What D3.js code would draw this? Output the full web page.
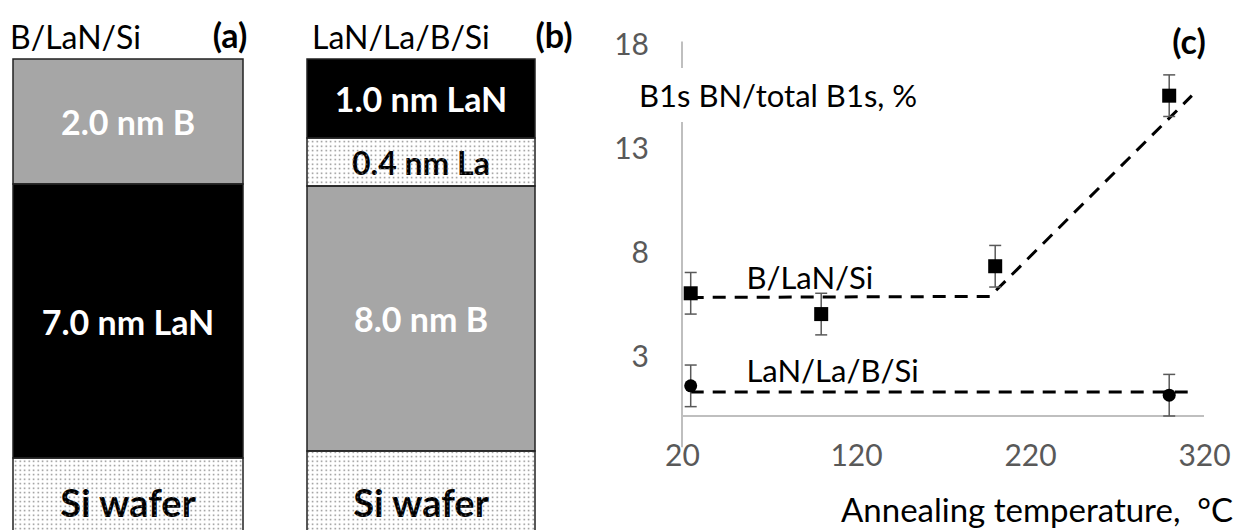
<!DOCTYPE html>
<html>
<title>Layers and BN fraction</title>
<meta charset="UTF-8">
<script type="text/javascript" src="https://d3js.org/d3.v7.min.js"></script>
<style type="text/css">
	body {
		margin: 0;
		background: white;
	}
	text {
		font-family: Lato, "Open Sans", sans-serif;
	}
	.tick text {
		fill: #595959;
	}
</style>
<body>
	<svg id="viz"></svg>
</body>
<script type="text/javascript">

	// layer stacks (a) and (b)
	var stackTitles = ["B/LaN/Si", "LaN/La/B/Si"];
	var panelTags = ["(a)", "(b)", "(c)"];
	var layersA = ["2.0 nm B", "7.0 nm LaN", "Si wafer"];
	var materialsA = ["B", "LaN", "Si"];
	var layersB = ["1.0 nm LaN", "0.4 nm La", "8.0 nm B", "Si wafer"];
	var materialsB = ["LaN", "La", "B", "Si"];

	// chart (c)
	var tempsBLaN = [25, 100, 200, 300];
	var bnBLaN = [5.9, 4.9, 7.2, 15.4];
	var errBLaN = [1, 1, 1, 1];
	var tempsLaNLa = [25, 300];
	var bnLaNLa = [1.45, 1.0];
	var errLaNLa = [1, 1];
	var trendBLaNX = [25, 197, 313];
	var trendBLaNY = [5.7, 5.75, 15.4];
	var trendLaNLaX = [25, 313];
	var trendLaNLaY = [1.15, 1.15];
	var xTicks = [20, 120, 220, 320];
	var yTicks = [3, 8, 13, 18];
	var yTitle = "B1s BN/total B1s, %";
	var xTitle = "Annealing temperature,  °C";

	var W = 1240, H = 530;

	var svg = d3.select("#viz")
		.attr("width", W)
		.attr("height", H);

	// dotted fill, drawn over the text as in the original drawing
	var defs = svg.append("defs");
	var dots = defs.append("pattern")
		.attr("id", "dots")
		.attr("patternUnits", "userSpaceOnUse")
		.attr("width", 4.5)
		.attr("height", 4.5);
	dots.append("rect").attr("x", 1.5).attr("y", 1.5).attr("width", 1.4).attr("height", 1.4).attr("fill", "#777");

	var fillOf = d3.scaleOrdinal()
		.domain(["B", "LaN", "La", "Si"])
		.range(["#a6a6a6", "#000000", "white", "white"]);
	var textOf = d3.scaleOrdinal()
		.domain(["B", "LaN", "La", "Si"])
		.range(["white", "white", "black", "black"]);

	// pixel edges of each layer (drawing is schematic, not to scale)
	var stacks = [
		{labels: layersA, mats: materialsA, x0: 13, x1: 243, edges: [59, 184, 458, 536], sizes: [34, 34, 38]},
		{labels: layersB, mats: materialsB, x0: 307, x1: 535, edges: [59, 138, 186, 451, 536], sizes: [34, 32, 34, 38]}
	];

	stacks.forEach(function(s, k){
		var g = svg.append("g");
		var rows = s.labels.map(function(l, i){
			return {label: l, mat: s.mats[i], y0: s.edges[i], y1: s.edges[i + 1], size: s.sizes[i]};
		});
		g.selectAll("rect.layer")
			.data(rows)
			.enter().append("rect")
			.attr("class", "layer")
			.attr("x", s.x0)
			.attr("y", function(d){ return d.y0; })
			.attr("width", s.x1 - s.x0)
			.attr("height", function(d){ return d.y1 - d.y0; })
			.attr("fill", function(d){ return fillOf(d.mat); });
		g.selectAll("text.layer")
			.data(rows)
			.enter().append("text")
			.attr("class", "layer")
			.attr("x", (s.x0 + s.x1) / 2)
			.attr("y", function(d){ return d.mat == "Si" ? 502 : (d.y0 + d.y1) / 2; })
			.attr("text-anchor", "middle")
			.attr("dominant-baseline", "central")
			.attr("font-weight", "bold")
			.attr("font-size", function(d){ return d.size + "px"; })
			.attr("fill", function(d){ return textOf(d.mat); })
			.text(function(d){ return d.label; });
		g.selectAll("rect.edge")
			.data(rows)
			.enter().append("rect")
			.attr("class", "edge")
			.attr("x", s.x0)
			.attr("y", function(d){ return d.y0; })
			.attr("width", s.x1 - s.x0)
			.attr("height", function(d){ return d.y1 - d.y0; })
			.attr("fill", function(d){ return (d.mat == "La" || d.mat == "Si") ? "url(#dots)" : "none"; })
			.attr("stroke", "#222")
			.attr("stroke-width", 1.5);
		g.append("text")
			.attr("x", k == 0 ? 10 : 312)
			.attr("y", 36)
			.attr("dominant-baseline", "central")
			.attr("font-size", "32px")
			.text(stackTitles[k]);
		g.append("text")
			.attr("x", k == 0 ? 230 : 554)
			.attr("y", 34)
			.attr("text-anchor", "middle")
			.attr("dominant-baseline", "central")
			.attr("font-size", "34px")
			.attr("font-weight", "bold")
			.text(panelTags[k]);
	});

	// chart (c)
	var xScale = d3.scaleLinear()
		.domain([20, 320])
		.range([682, 1204]);
	var yScale = d3.scaleLinear()
		.domain([0, 18])
		.range([416, 41.6]);

	var chart = svg.append("g");

	// y axis title; the axis line is broken around it
	var yt = chart.append("text")
		.attr("x", 639)
		.attr("y", 95)
		.attr("dominant-baseline", "central")
		.attr("font-size", "31px")
		.text(yTitle);
	var bb = yt.node().getBBox();

	var axisColor = "#bfbfbf";
	chart.append("line")
		.attr("x1", xScale(20)).attr("x2", xScale(20))
		.attr("y1", yScale(18)).attr("y2", bb.y - 8)
		.attr("stroke", axisColor).attr("stroke-width", 2);
	chart.append("line")
		.attr("x1", xScale(20)).attr("x2", xScale(20))
		.attr("y1", bb.y + bb.height + 8).attr("y2", yScale(-1.5))
		.attr("stroke", axisColor).attr("stroke-width", 2);
	chart.append("line")
		.attr("x1", xScale(20)).attr("x2", xScale(320))
		.attr("y1", yScale(0)).attr("y2", yScale(0))
		.attr("stroke", axisColor).attr("stroke-width", 2);

	var yAxis = d3.axisLeft(yScale).tickValues(yTicks).tickSize(0).tickPadding(33);
	chart.append("g")
		.attr("transform", "translate(" + xScale(20) + ",3)")
		.call(yAxis)
		.call(function(g){ g.select(".domain").remove(); })
		.selectAll("text")
		.attr("font-size", "30px")
		.style("font-family", "Lato, sans-serif");

	var xAxis = d3.axisBottom(xScale).tickValues(xTicks).tickSize(0).tickPadding(29);
	chart.append("g")
		.attr("transform", "translate(0," + yScale(0) + ")")
		.call(xAxis)
		.call(function(g){ g.select(".domain").remove(); })
		.selectAll("text")
		.attr("font-size", "30px")
		.style("font-family", "Lato, sans-serif");

	chart.append("text")
		.attr("x", 1233)
		.attr("y", 509)
		.attr("text-anchor", "end")
		.attr("dominant-baseline", "central")
		.attr("font-size", "33px")
		.style("white-space", "pre")
		.text(xTitle);

	chart.append("text")
		.attr("x", 1189)
		.attr("y", 40)
		.attr("text-anchor", "middle")
		.attr("dominant-baseline", "central")
		.attr("font-size", "34px")
		.attr("font-weight", "bold")
		.text(panelTags[2]);

	// trend lines
	var line = d3.line()
		.x(function(d){ return xScale(d[0]); })
		.y(function(d){ return yScale(d[1]); });
	[[trendBLaNX, trendBLaNY], [trendLaNLaX, trendLaNLaY]].forEach(function(t){
		chart.append("path")
			.attr("d", line(d3.zip(t[0], t[1])))
			.attr("fill", "none")
			.attr("stroke", "black")
			.attr("stroke-width", 3)
			.attr("stroke-dasharray", "13,9");
	});

	// error bars
	function errorBars(xs, ys, es){
		var pts = d3.zip(xs, ys, es);
		var g = chart.append("g")
			.attr("stroke", "#595959")
			.attr("stroke-width", 1.5);
		g.selectAll("line.v").data(pts).enter().append("line")
			.attr("x1", function(d){ return xScale(d[0]); })
			.attr("x2", function(d){ return xScale(d[0]); })
			.attr("y1", function(d){ return yScale(d[1] + d[2]); })
			.attr("y2", function(d){ return yScale(d[1] - d[2]); });
		[1, -1].forEach(function(sgn){
			g.selectAll("line.c" + sgn).data(pts).enter().append("line")
				.attr("x1", function(d){ return xScale(d[0]) - 6; })
				.attr("x2", function(d){ return xScale(d[0]) + 6; })
				.attr("y1", function(d){ return yScale(d[1] + sgn * d[2]); })
				.attr("y2", function(d){ return yScale(d[1] + sgn * d[2]); });
		});
		return pts;
	}

	var sq = errorBars(tempsBLaN, bnBLaN, errBLaN);
	chart.selectAll("rect.mk").data(sq).enter().append("rect")
		.attr("class", "mk")
		.attr("x", function(d){ return xScale(d[0]) - 7; })
		.attr("y", function(d){ return yScale(d[1]) - 7; })
		.attr("width", 14)
		.attr("height", 14)
		.attr("fill", "black");

	var ci = errorBars(tempsLaNLa, bnLaNLa, errLaNLa);
	chart.selectAll("circle.mk").data(ci).enter().append("circle")
		.attr("class", "mk")
		.attr("cx", function(d){ return xScale(d[0]); })
		.attr("cy", function(d){ return yScale(d[1]); })
		.attr("r", 6.5)
		.attr("fill", "black");

	// series names next to the lines
	chart.selectAll("text.series").data(stackTitles).enter().append("text")
		.attr("class", "series")
		.attr("x", xScale(57))
		.attr("y", function(d, i){ return i == 0 ? yScale(6.7) : yScale(2.2); })
		.attr("dominant-baseline", "central")
		.attr("font-size", "31px")
		.text(function(d){ return d; });

</script>
</html>
